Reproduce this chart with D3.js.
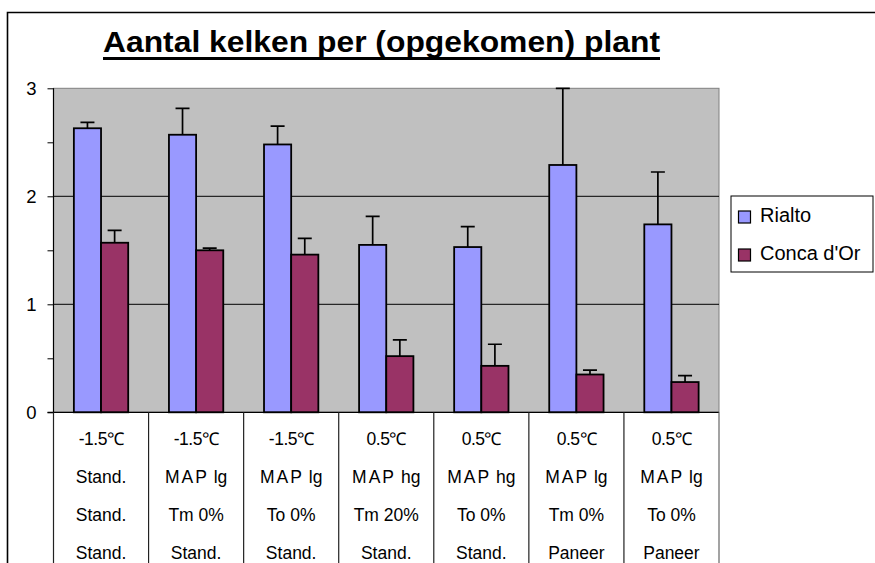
<!DOCTYPE html>
<html><head><meta charset="utf-8">
<script src="https://cdn.jsdelivr.net/npm/d3@7"></script>
<style>
html,body{margin:0;padding:0;background:#fff;}
svg{display:block;font-family:"Liberation Sans",Arial,sans-serif;}
</style></head>
<body>
<svg id="c" width="875" height="563"></svg>
<script>
const title = "Aantal kelken per (opgekomen) plant";
const series = ["Rialto", "Conca d'Or"];
const colors = ["#9999FF", "#993366"];
const rowTemp = ["-1.5\u2103","-1.5\u2103","-1.5\u2103","0.5\u2103","0.5\u2103","0.5\u2103","0.5\u2103"];
const rowPack = ["Stand.","MAP lg","MAP lg","MAP hg","MAP hg","MAP lg","MAP lg"];
const rowTreat = ["Stand.","Tm 0%","To 0%","Tm 20%","To 0%","Tm 0%","To 0%"];
const rowPan = ["Stand.","Stand.","Stand.","Stand.","Stand.","Paneer","Paneer"];
const rialto = [2.63, 2.57, 2.48, 1.55, 1.53, 2.29, 1.74];
const rialtoErr = [0.055, 0.245, 0.17, 0.265, 0.19, 0.71, 0.485];
const conca = [1.57, 1.50, 1.46, 0.52, 0.43, 0.35, 0.28];
const concaErr = [0.115, 0.02, 0.15, 0.15, 0.20, 0.04, 0.06];
const yTicks = [0, 1, 2, 3];
const yMinor = [0.5, 1.5, 2.5];

const svg = d3.select("#c");
const L = 53.5, R = 719, T = 88.3, B = 412.3;
const cats = d3.range(rialto.length);
const x0 = d3.scaleBand().domain(cats).range([L, R]).paddingInner(0).paddingOuter(0);
const x1 = d3.scaleBand().domain(series).range([0, x0.bandwidth()]).paddingInner(0).paddingOuter(0.75);
const y = d3.scaleLinear().domain([0, 3]).range([B, T]);

// outer frame
svg.append("path").attr("d", `M7.5,${563+5}V12.5H${880}`).attr("fill","none").attr("stroke","#000").attr("stroke-width",1.6);

// title
const tt = svg.append("text").attr("x", 381.5).attr("y", 51.5).attr("text-anchor","middle")
  .attr("font-size", 30).attr("font-weight","bold").attr("fill","#000").text(title);
tt.attr("textLength", 557).attr("lengthAdjust","spacingAndGlyphs");
svg.append("line").attr("x1",103).attr("x2",660).attr("y1",58.5).attr("y2",58.5).attr("stroke","#000").attr("stroke-width",3);

// plot area
svg.append("rect").attr("x",L).attr("y",T).attr("width",R-L).attr("height",B-T).attr("fill","#C0C0C0").attr("stroke","#808080").attr("stroke-width",1);
svg.append("g").selectAll("line").data([1,2]).join("line")
  .attr("x1",L).attr("x2",R).attr("y1",d=>y(d)).attr("y2",d=>y(d)).attr("stroke","#000").attr("stroke-width",1);

// bars
const data = cats.map(i => [
  {s: series[0], v: rialto[i], e: rialtoErr[i], c: colors[0]},
  {s: series[1], v: conca[i], e: concaErr[i], c: colors[1]}
]);
const g = svg.append("g").selectAll("g").data(data).join("g").attr("transform",(d,i)=>`translate(${x0(i)},0)`);
g.selectAll("rect").data(d=>d).join("rect")
  .attr("x",d=>x1(d.s)).attr("width",x1.bandwidth()).attr("y",d=>y(d.v)).attr("height",d=>y(0)-y(d.v))
  .attr("fill",d=>d.c).attr("stroke","#000").attr("stroke-width",1.8);
// error bars
g.selectAll("path.err").data(d=>d).join("path").attr("class","err")
  .attr("d",d=>{const cx=x1(d.s)+x1.bandwidth()/2; const yt=y(d.v+d.e); return `M${cx},${y(d.v)}V${yt}M${cx-7},${yt}H${cx+7}`;})
  .attr("fill","none").attr("stroke","#000").attr("stroke-width",1.7);

// y axis
const ya = svg.append("g").attr("transform",`translate(${L},0)`)
  .call(d3.axisLeft(y).tickValues(yTicks).tickSize(6).tickPadding(11).tickFormat(d3.format("d")));
ya.select(".domain").remove();
ya.selectAll("line").attr("stroke","#000");
ya.selectAll("text").attr("font-size",18.5).attr("font-family","'Liberation Sans',Arial,sans-serif").attr("fill","#000");
const ym = svg.append("g").attr("transform",`translate(${L},0)`)
  .call(d3.axisLeft(y).tickValues(yMinor).tickSize(6).tickFormat(""));
ym.select(".domain").remove();
ym.selectAll("line").attr("stroke","#000");
svg.append("line").attr("x1",L).attr("x2",L).attr("y1",T).attr("y2",B).attr("stroke","#000").attr("stroke-width",1.2);
svg.append("line").attr("x1",L-6).attr("x2",R).attr("y1",B).attr("y2",B).attr("stroke","#000").attr("stroke-width",1.2);

// category table lines
const bounds = cats.map(i=>x0(i)).concat([R]);
svg.append("g").selectAll("line").data(bounds).join("line")
  .attr("x1",d=>d).attr("x2",d=>d).attr("y1",B).attr("y2",563)
  .attr("stroke",(d,i)=> i===bounds.length-1 ? "#666" : "#222").attr("stroke-width",1.2);

// category labels
const rows = [rowTemp, rowPack, rowTreat, rowPan];
const baselines = [444.5, 482.8, 521, 559.3];
rows.forEach((row, r) => {
  svg.append("g").selectAll("text").data(row).join("text")
    .attr("x",(d,i)=>x0(i)+x0.bandwidth()/2).attr("y",baselines[r]).attr("text-anchor","middle")
    .attr("font-size",17.5).attr("fill","#000")
    .each(function(d){
      const t = d3.select(this);
      if (d.startsWith("MAP")) {
        t.append("tspan").attr("letter-spacing","2px").text("MAP");
        t.append("tspan").text(d.slice(3));
      } else if (r===0) {
        t.attr("letter-spacing","-0.5px").text(d);
      } else t.text(d);
    });
});

// legend
svg.append("rect").attr("x",731).attr("y",196).attr("width",142).attr("height",76).attr("fill","#fff").attr("stroke","#000").attr("stroke-width",1);
const lg = svg.append("g").selectAll("g").data(series).join("g").attr("transform",(d,i)=>`translate(738.5,${211+i*38})`);
lg.append("rect").attr("width",12).attr("height",12).attr("fill",(d,i)=>colors[i]).attr("stroke","#000").attr("stroke-width",1.2);
lg.append("text").attr("x",21.5).attr("y",11).attr("font-size",20).attr("fill","#000").text(d=>d);
</script>
</body></html>
